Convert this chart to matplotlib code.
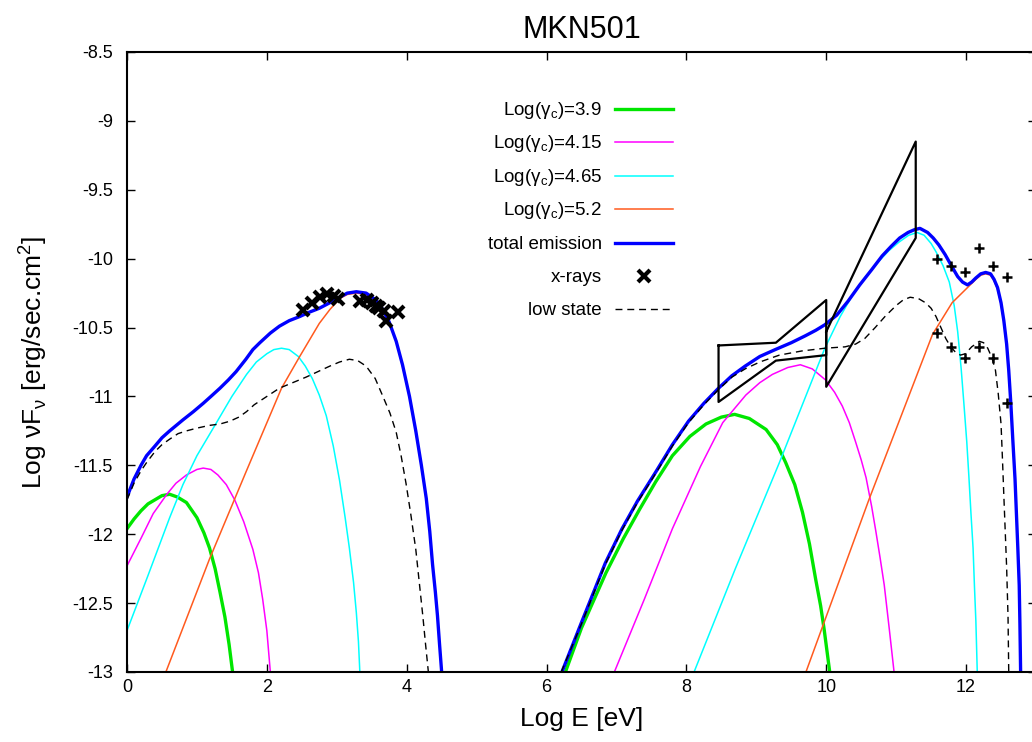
import numpy as np
import matplotlib.pyplot as plt
from matplotlib.lines import Line2D

plt.rcParams['font.family'] = ['Liberation Sans', 'DejaVu Sans']
plt.rcParams['axes.unicode_minus'] = False

# synchrotron bump (log E < 5) and inverse-Compton bump (log E > 6)
green_lo_x = [0.0, 0.1, 0.2, 0.3, 0.4, 0.5, 0.61, 0.72, 0.85, 1.0, 1.1, 1.18, 1.26, 1.33, 1.4, 1.46, 1.51]
green_lo_y = [-11.96, -11.89, -11.83, -11.78, -11.75, -11.72, -11.71, -11.73, -11.77, -11.88, -11.99,
              -12.10, -12.25, -12.42, -12.60, -12.80, -13.0]
green_hi_x = [6.27, 6.5, 6.85, 7.1, 7.33, 7.56, 7.8, 8.05, 8.28, 8.5, 8.69, 8.9, 9.14, 9.3, 9.42, 9.55,
              9.66, 9.76, 9.85, 9.92, 9.97, 10.05]
green_hi_y = [-13.0, -12.68, -12.28, -12.03, -11.82, -11.62, -11.43, -11.29, -11.20, -11.15, -11.13,
              -11.16, -11.24, -11.35, -11.48, -11.64, -11.84, -12.07, -12.33, -12.52, -12.69, -13.0]

magenta_lo_x = [0.0, 0.1, 0.2, 0.375, 0.57, 0.7, 0.85, 1.0, 1.09, 1.2, 1.3, 1.42, 1.54, 1.67, 1.80,
                1.88, 1.94, 2.0, 2.05]
magenta_lo_y = [-12.23, -12.13, -12.03, -11.85, -11.71, -11.63, -11.57, -11.53, -11.52, -11.53, -11.57,
                -11.64, -11.75, -11.91, -12.11, -12.28, -12.47, -12.70, -13.0]
magenta_hi_x = [6.97, 7.4, 7.8, 8.2, 8.52, 8.85, 9.05, 9.23, 9.45, 9.63, 9.8, 9.99, 10.12, 10.23, 10.33,
                10.42, 10.5, 10.57, 10.65, 10.71, 10.77, 10.83, 10.90, 10.97]
magenta_hi_y = [-13.0, -12.47, -11.96, -11.51, -11.19, -10.99, -10.90, -10.84, -10.79, -10.77, -10.80,
                -10.88, -10.97, -11.07, -11.19, -11.33, -11.46, -11.59, -11.80, -11.98, -12.17, -12.37,
                -12.68, -13.0]

cyan_lo_x = [0.0, 0.3, 0.61, 0.8, 1.0, 1.28, 1.5, 1.71, 1.85, 2.0, 2.1, 2.21, 2.32, 2.45, 2.55, 2.65,
             2.75, 2.85, 2.95, 3.04, 3.12, 3.18, 3.24, 3.28, 3.31, 3.33]
cyan_lo_y = [-12.70, -12.30, -11.88, -11.64, -11.43, -11.19, -11.0, -10.84, -10.75, -10.69, -10.66,
             -10.65, -10.66, -10.71, -10.78, -10.87, -10.99, -11.14, -11.36, -11.61, -11.88, -12.10,
             -12.35, -12.57, -12.78, -13.0]
cyan_hi_x = [8.11, 8.7, 9.33, 9.98, 10.2, 10.37, 10.55, 10.75, 10.9, 11.04, 11.18, 11.3, 11.4, 11.5,
             11.57, 11.67, 11.76, 11.83, 11.88, 11.93, 11.97, 12.01, 12.04, 12.07, 12.10, 12.12, 12.14,
             12.16]
cyan_hi_y = [-13.0, -12.25, -11.48, -10.65, -10.42, -10.27, -10.14, -10.02, -9.94, -9.88, -9.83, -9.81,
             -9.83, -9.89, -9.95, -10.05, -10.17, -10.34, -10.53, -10.80, -11.06, -11.33, -11.58,
             -11.85, -12.10, -12.38, -12.63, -13.0]

orange_lo_x = [0.556, 1.18, 1.7, 2.21, 2.47, 2.75, 2.9, 3.04, 3.15, 3.28, 3.42, 3.56, 3.66, 3.75, 3.85,
               3.94, 4.04, 4.13, 4.21, 4.28, 4.33, 4.37, 4.41, 4.44, 4.47, 4.50]
orange_lo_y = [-13.0, -12.18, -11.55, -10.94, -10.71, -10.47, -10.37, -10.29, -10.26, -10.25, -10.26,
               -10.31, -10.38, -10.47, -10.60, -10.78, -11.0, -11.26, -11.50, -11.75, -11.98, -12.23,
               -12.42, -12.59, -12.80, -13.0]
orange_hi_x = [9.71, 10.61, 11.52, 11.8, 12.04, 12.14, 12.21, 12.28, 12.35, 12.40, 12.45, 12.50, 12.54,
               12.58, 12.61, 12.64, 12.67, 12.70, 12.72, 12.74, 12.76, 12.77, 12.78]
orange_hi_y = [-13.0, -11.75, -10.55, -10.32, -10.20, -10.15, -10.12, -10.11, -10.12, -10.16, -10.22,
               -10.33, -10.46, -10.63, -10.82, -11.06, -11.34, -11.61, -11.86, -12.11, -12.38, -12.66,
               -13.0]

total_lo_x = [0.0, 0.1, 0.2, 0.28, 0.4, 0.5, 0.61, 0.8, 0.95, 1.09, 1.2, 1.33, 1.45, 1.56, 1.7, 1.8,
              1.90, 2.05, 2.18, 2.32, 2.47, 2.6, 2.75, 2.9, 3.04, 3.15, 3.28, 3.42, 3.56, 3.66, 3.75,
              3.85, 3.94, 4.04, 4.13, 4.21, 4.28, 4.33, 4.37, 4.41, 4.44, 4.47, 4.50]
total_lo_y = [-11.73, -11.60, -11.50, -11.43, -11.36, -11.30, -11.25, -11.17, -11.11, -11.05, -11.0,
              -10.94, -10.88, -10.82, -10.73, -10.66, -10.61, -10.54, -10.49, -10.45, -10.42, -10.39,
              -10.36, -10.32, -10.28, -10.25, -10.24, -10.25, -10.30, -10.37, -10.46, -10.60, -10.77,
              -11.0, -11.25, -11.50, -11.74, -11.98, -12.22, -12.42, -12.59, -12.80, -13.0]
total_hi_x = [6.22, 6.5, 6.84, 7.08, 7.3, 7.56, 7.8, 8.03, 8.25, 8.46, 8.65, 8.84, 9.05, 9.27, 9.5,
              9.70, 9.85, 9.98, 10.15, 10.31, 10.48, 10.65, 10.8, 10.93, 11.05, 11.17, 11.26, 11.34,
              11.45, 11.53, 11.61, 11.7, 11.80, 11.88, 11.95, 12.02, 12.08, 12.14, 12.21, 12.28, 12.35,
              12.40, 12.45, 12.50, 12.54, 12.58, 12.61, 12.64, 12.67, 12.70, 12.72, 12.74, 12.76, 12.77,
              12.78]
total_hi_y = [-13.0, -12.64, -12.21, -11.96, -11.76, -11.55, -11.35, -11.18, -11.05, -10.94, -10.85,
              -10.78, -10.71, -10.66, -10.61, -10.56, -10.52, -10.48, -10.41, -10.31, -10.19, -10.08,
              -9.98, -9.91, -9.85, -9.81, -9.79, -9.78, -9.81, -9.85, -9.90, -9.97, -10.06, -10.13,
              -10.17, -10.19, -10.17, -10.14, -10.11, -10.10, -10.11, -10.15, -10.21, -10.32, -10.45,
              -10.62, -10.81, -11.05, -11.33, -11.60, -11.85, -12.10, -12.37, -12.65, -13.0]

low_lo_x = [0.0, 0.1, 0.2, 0.28, 0.4, 0.5, 0.61, 0.73, 0.85, 1.0, 1.18, 1.33, 1.47, 1.6, 1.71, 1.82,
            1.94, 2.06, 2.18, 2.37, 2.56, 2.73, 2.90, 3.04, 3.18, 3.30, 3.42, 3.55, 3.66, 3.76, 3.85,
            3.92, 3.99, 4.06, 4.13, 4.18, 4.23, 4.27, 4.31]
low_lo_y = [-11.75, -11.63, -11.54, -11.48, -11.40, -11.35, -11.31, -11.27, -11.25, -11.23, -11.21,
            -11.20, -11.18, -11.15, -11.11, -11.06, -11.02, -10.98, -10.94, -10.90, -10.86, -10.82,
            -10.78, -10.75, -10.73, -10.74, -10.78, -10.87, -11.0, -11.12, -11.26, -11.43, -11.63,
            -11.86, -12.11, -12.35, -12.59, -12.80, -13.0]
low_hi_x = [6.21, 6.5, 6.84, 7.08, 7.3, 7.56, 7.8, 8.03, 8.25, 8.46, 8.65, 8.84, 9.05, 9.33, 9.65, 9.98,
            10.27, 10.42, 10.55, 10.7, 10.84, 11.0, 11.1, 11.20, 11.32, 11.42, 11.5, 11.57, 11.64,
            11.71, 11.78, 11.85, 11.92, 11.99, 12.08, 12.19, 12.25, 12.31, 12.37, 12.42, 12.46, 12.50,
            12.52, 12.54, 12.56, 12.58, 12.60, 12.61]
low_hi_y = [-13.0, -12.65, -12.22, -11.97, -11.77, -11.56, -11.36, -11.19, -11.06, -10.95, -10.86,
            -10.80, -10.75, -10.70, -10.67, -10.65, -10.64, -10.62, -10.58, -10.50, -10.42, -10.34,
            -10.30, -10.28, -10.29, -10.32, -10.36, -10.42, -10.50, -10.58, -10.64, -10.68, -10.70,
            -10.69, -10.64, -10.60, -10.61, -10.65, -10.72, -10.81, -10.98, -11.20, -11.45, -11.72,
            -11.98, -12.24, -12.60, -13.0]

# x-ray spectrum points
xray_x = [2.51, 2.65, 2.76, 2.86, 2.96, 3.02, 3.33, 3.43, 3.50, 3.56, 3.61, 3.67, 3.70, 3.87]
xray_y = [-10.37, -10.32, -10.28, -10.26, -10.27, -10.29, -10.31, -10.30, -10.32, -10.34, -10.36,
          -10.38, -10.45, -10.39]

# TeV points, high and low state
tev_x = [11.58, 11.79, 11.98, 12.19, 12.39, 12.59]
tev_high_y = [-10.0, -10.05, -10.10, -9.92, -10.05, -10.13]
tev_low_y = [-10.54, -10.64, -10.72, -10.64, -10.72, -11.05]

# spectral "bow-tie" outlines
bowtie1_x = [8.46, 9.28, 10.0, 10.0, 9.28, 8.46, 8.46]
bowtie1_y = [-10.63, -10.61, -10.30, -10.70, -10.74, -11.04, -10.63]
bowtie2_x = [10.0, 11.28, 11.28, 10.0, 10.0]
bowtie2_y = [-10.53, -9.15, -9.85, -10.93, -10.53]

labels = [r'Log(γ$_\mathregular{c}$)=3.9', r'Log(γ$_\mathregular{c}$)=4.15',
          r'Log(γ$_\mathregular{c}$)=4.65', r'Log(γ$_\mathregular{c}$)=5.2',
          'total emission', 'x-rays', 'low state']

c_green = '#00e600'
c_magenta = '#ff00ff'
c_cyan = '#00ffff'
c_orange = '#ff5a1e'
c_blue = '#0000ff'

fig = plt.figure(figsize=(10.32, 7.42), dpi=100)
ax = fig.add_axes([127 / 1032, 70 / 742, 909 / 1032, 620 / 742])

for xs, ys in [(green_lo_x, green_lo_y), (green_hi_x, green_hi_y)]:
    ax.plot(xs, ys, color=c_green, lw=2.4)
for xs, ys in [(magenta_lo_x, magenta_lo_y), (magenta_hi_x, magenta_hi_y)]:
    ax.plot(xs, ys, color=c_magenta, lw=1.1)
for xs, ys in [(cyan_lo_x, cyan_lo_y), (cyan_hi_x, cyan_hi_y)]:
    ax.plot(xs, ys, color=c_cyan, lw=1.1)
for xs, ys in [(orange_lo_x, orange_lo_y), (orange_hi_x, orange_hi_y)]:
    ax.plot(xs, ys, color=c_orange, lw=1.1)
for xs, ys in [(total_lo_x, total_lo_y), (total_hi_x, total_hi_y)]:
    ax.plot(xs, ys, color=c_blue, lw=2.4)

ax.plot(xray_x, xray_y, ls='none', marker='x', ms=8, mew=3, color='black')

for xs, ys in [(low_lo_x, low_lo_y), (low_hi_x, low_hi_y)]:
    ax.plot(xs, ys, color='black', lw=1.0, dashes=(5, 3.5))

ax.plot(tev_x, tev_high_y, ls='none', marker='+', ms=7.5, mew=1.8, color='black')
ax.plot(tev_x, tev_low_y, ls='none', marker='+', ms=7.5, mew=1.8, color='black')

ax.plot(bowtie1_x, bowtie1_y, color='black', lw=1.6)
ax.plot(bowtie2_x, bowtie2_y, color='black', lw=1.6)

ax.set_xlim(0, 13)
ax.set_ylim(-13, -8.5)
ax.set_xticks(np.arange(0, 13, 2))
ax.set_yticks(np.arange(-13, -8.4, 0.5))
ax.yaxis.set_major_formatter(plt.FormatStrFormatter('%g'))
ax.tick_params(direction='in', top=True, right=True, length=6, width=1, labelsize=13)
ax.tick_params(axis='x', pad=5)
ax.tick_params(axis='y', pad=10)
for s in ax.spines.values():
    s.set_linewidth(1.5)

ax.set_title('MKN501', fontsize=22, pad=10)
ax.set_xlabel('Log E [eV]', fontsize=19, labelpad=8)
ax.set_ylabel(r'Log νF$_\mathregular{ν}$ [erg/sec.cm$^\mathregular{2}$]', fontsize=19, labelpad=17)

# key: labels right-aligned, sample to the right of each label
key_handles = [dict(color=c_green, lw=2.4),
               dict(color=c_magenta, lw=1.1),
               dict(color=c_cyan, lw=1.1),
               dict(color=c_orange, lw=1.1),
               dict(color=c_blue, lw=2.4),
               None,
               dict(color='black', lw=1.0, dashes=(5, 3.5))]
W, H = 1032, 742
for i, (lab, style) in enumerate(zip(labels, key_handles)):
    yrow = 1 - (109 + 33.4 * i) / H
    fig.text(602 / W, yrow - 6 / H, lab, ha='right', va='baseline', fontsize=13.5)
    if style is None:
        fig.add_artist(Line2D([644 / W], [yrow], ls='none', marker='x', ms=8, mew=3, color='black'))
    else:
        fig.add_artist(Line2D([615 / W, 673 / W], [yrow, yrow], **style))

fig.savefig('out.png', dpi=100)
